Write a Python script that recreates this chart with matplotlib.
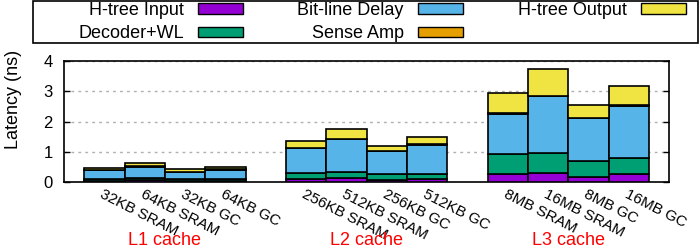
import matplotlib
matplotlib.use("Agg")
import matplotlib.pyplot as plt
from matplotlib.patches import Patch, Rectangle
import matplotlib.transforms as mtransforms

plt.rcParams['font.family'] = ['Liberation Sans', 'DejaVu Sans']

# ---- data ----
labels = ["32KB SRAM", "64KB SRAM", "32KB GC", "64KB GC",
          "256KB SRAM", "512KB SRAM", "256KB GC", "512KB GC",
          "8MB SRAM", "16MB SRAM", "8MB GC", "16MB GC"]
groups = ["L1 cache", "L2 cache", "L3 cache"]
htree_in = [0.03, 0.07, 0.02, 0.03, 0.09, 0.12, 0.05, 0.09, 0.25, 0.29, 0.15, 0.25]
decoder = [0.07, 0.07, 0.07, 0.06, 0.20, 0.20, 0.20, 0.16, 0.67, 0.66, 0.53, 0.53]
bitline = [0.29, 0.37, 0.25, 0.30, 0.82, 1.09, 0.76, 0.98, 1.32, 1.88, 1.42, 1.72]
senseamp = [0.005, 0.03, 0.005, 0.03, 0.01, 0.01, 0.01, 0.03, 0.03, 0.01, 0.01, 0.04]
htree_out = [0.06, 0.08, 0.08, 0.06, 0.24, 0.32, 0.17, 0.22, 0.66, 0.89, 0.43, 0.62]
series_names = ["H-tree Input", "Decoder+WL", "Bit-line Delay", "Sense Amp", "H-tree Output"]
colors = ["#9400D3", "#009E73", "#56B4E9", "#E69F00", "#F0E442"]

positions = []
for g in range(3):
    for k in range(4):
        positions.append(g * 5 + k)

fig = plt.figure(figsize=(7, 2.5), dpi=100)
ax = fig.add_axes([64/700, 1-182/250, 605/700, 121/250])

series = [htree_in, decoder, bitline, senseamp, htree_out]
bottom = [0.0] * len(positions)
for vals, name, c in zip(series, series_names, colors):
    ax.bar(positions, vals, width=1.0, bottom=bottom, color=c,
           edgecolor='black', linewidth=1.2, zorder=3, label=name)
    bottom = [b + v for b, v in zip(bottom, vals)]

ax.set_xlim(-1, 14)
ax.set_ylim(0, 4)
ax.set_yticks([0, 1, 2, 3, 4])
ax.tick_params(axis='y', direction='in', length=4, right=True, labelsize=12, pad=8, width=1)
ax.set_xticks(positions)
ax.set_xticklabels(labels, rotation=-27, ha='left', va='top', rotation_mode='anchor', fontsize=11)
ax.tick_params(axis='x', length=0, pad=4)
ax.grid(axis='y', color='#b0b0b0', linestyle=(0, (2, 3)), linewidth=1, zorder=0)
for s in ax.spines.values():
    s.set_linewidth(1.2)

ax.set_ylabel("Latency (ns)", fontsize=13)
ax.yaxis.set_label_coords(-0.07, 0.68)

trans = mtransforms.blended_transform_factory(ax.transData, ax.transAxes)
for g, name in enumerate(groups):
    ax.text(g * 5 + 1.5, -0.48, name, transform=trans, ha='center', va='center',
            color='red', fontsize=13)

# legend
handles = [Patch(facecolor=c, edgecolor='black', linewidth=1.0) for c in colors]
fig.legend(handles, series_names, loc='upper left', bbox_to_anchor=(69/700, 1+7/250),
           ncol=3, frameon=False, markerfirst=False, fontsize=13, borderpad=0,
           handlelength=2.5, handleheight=0.5, handletextpad=0.8,
           columnspacing=3.0, labelspacing=0.35)
fig.patches.append(Rectangle((33/700, 1-43/250), 665/700, 42/250, transform=fig.transFigure,
                             fill=False, edgecolor='black', linewidth=1.2))

fig.savefig("out.png", dpi=100)
